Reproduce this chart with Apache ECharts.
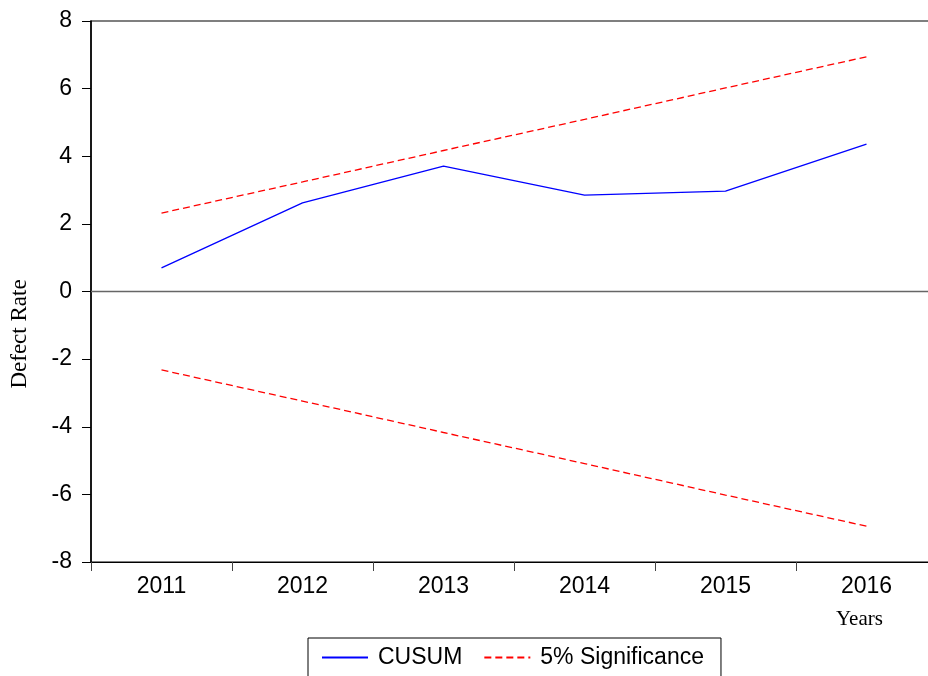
<!DOCTYPE html>
<html>
<head>
<meta charset="utf-8">
<script src="https://cdn.jsdelivr.net/npm/echarts@6/dist/echarts.min.js"></script>
<style>
  html, body { margin: 0; padding: 0; background: #fff; }
  #chart { width: 928px; height: 676px; }
</style>
</head>
<body>
<div id="chart"></div>
<script>
// CUSUM test of the defect rate, with the 5% significance bounds
const years = ['2011', '2012', '2013', '2014', '2015', '2016'];
const cusum = [0.70, 2.62, 3.71, 2.85, 2.97, 4.36];
const upperBound = [2.32, 3.24, 4.17, 5.09, 6.02, 6.94];
const lowerBound = [-2.32, -3.24, -4.17, -5.09, -6.02, -6.94];
const yTicks = { min: -8, max: 8, interval: 2 };

const chart = echarts.init(document.getElementById('chart'), null, { renderer: 'canvas' });

const sans = 'Liberation Sans, Arial, sans-serif';
const dashed = { color: '#ff0000', width: 1.3, type: [7, 4] };

chart.setOption({
  animation: false,
  backgroundColor: '#ffffff',
  grid: {
    left: 91, top: 21, width: 846, height: 541,
    outerBoundsMode: 'none',
    containLabel: false,
    show: true, borderColor: '#000', borderWidth: 1.2, backgroundColor: 'transparent'
  },
  legend: {
    left: 308, top: 638,
    data: [
      { name: 'CUSUM' },
      { name: '5% Significance' }
    ],
    borderColor: '#000', borderWidth: 1,
    padding: [8, 17, 20, 13],
    itemWidth: 46, itemHeight: 12, itemGap: 21,
    itemStyle: { color: 'transparent', borderWidth: 0 },
    textStyle: { fontFamily: sans, fontSize: 23, color: '#000', padding: [0, 0, 0, 5] }
  },
  xAxis: {
    type: 'category',
    data: years,
    boundaryGap: true,
    axisLine: { onZero: false, lineStyle: { color: '#000', width: 1.2 } },
    axisTick: { show: true, length: 9, inside: false, lineStyle: { color: '#444' } },
    axisLabel: { margin: 13, fontFamily: sans, fontSize: 23, color: '#000' },
    splitLine: { show: false }
  },
  yAxis: {
    type: 'value',
    min: yTicks.min, max: yTicks.max, interval: yTicks.interval,
    axisLine: { show: true, lineStyle: { color: '#000', width: 1.5 } },
    axisTick: { show: true, length: 9, inside: false, lineStyle: { color: '#000' } },
    axisLabel: { margin: 19, fontFamily: sans, fontSize: 23, color: '#000' },
    splitLine: { show: false }
  },
  graphic: [
    {
      type: 'text', x: 20, y: 334, rotation: Math.PI / 2,
      style: {
        text: 'Defect Rate', font: '23px "Liberation Serif", "Times New Roman", serif',
        fill: '#000', align: 'center', verticalAlign: 'middle'
      }
    },
    {
      type: 'text', left: 836, top: 609,
      style: { text: 'Years', font: '21px "Liberation Serif", "Times New Roman", serif', fill: '#000' }
    }
  ],
  series: [
    {
      name: 'CUSUM', type: 'line', data: cusum,
      symbol: 'none', lineStyle: { color: '#0000ff', width: 1.3 },
      itemStyle: { color: '#0000ff' },
      markLine: {
        silent: true, symbol: 'none', label: { show: false },
        lineStyle: { color: '#666', width: 1.3, type: 'solid' },
        data: [{ yAxis: 0 }]
      }
    },
    {
      name: '5% Significance', type: 'line', data: upperBound,
      symbol: 'none', lineStyle: dashed, itemStyle: { color: '#ff0000' }
    },
    {
      name: '5% Significance', type: 'line', data: lowerBound,
      symbol: 'none', lineStyle: dashed, itemStyle: { color: '#ff0000' }
    }
  ]
});
</script>
</body>
</html>
